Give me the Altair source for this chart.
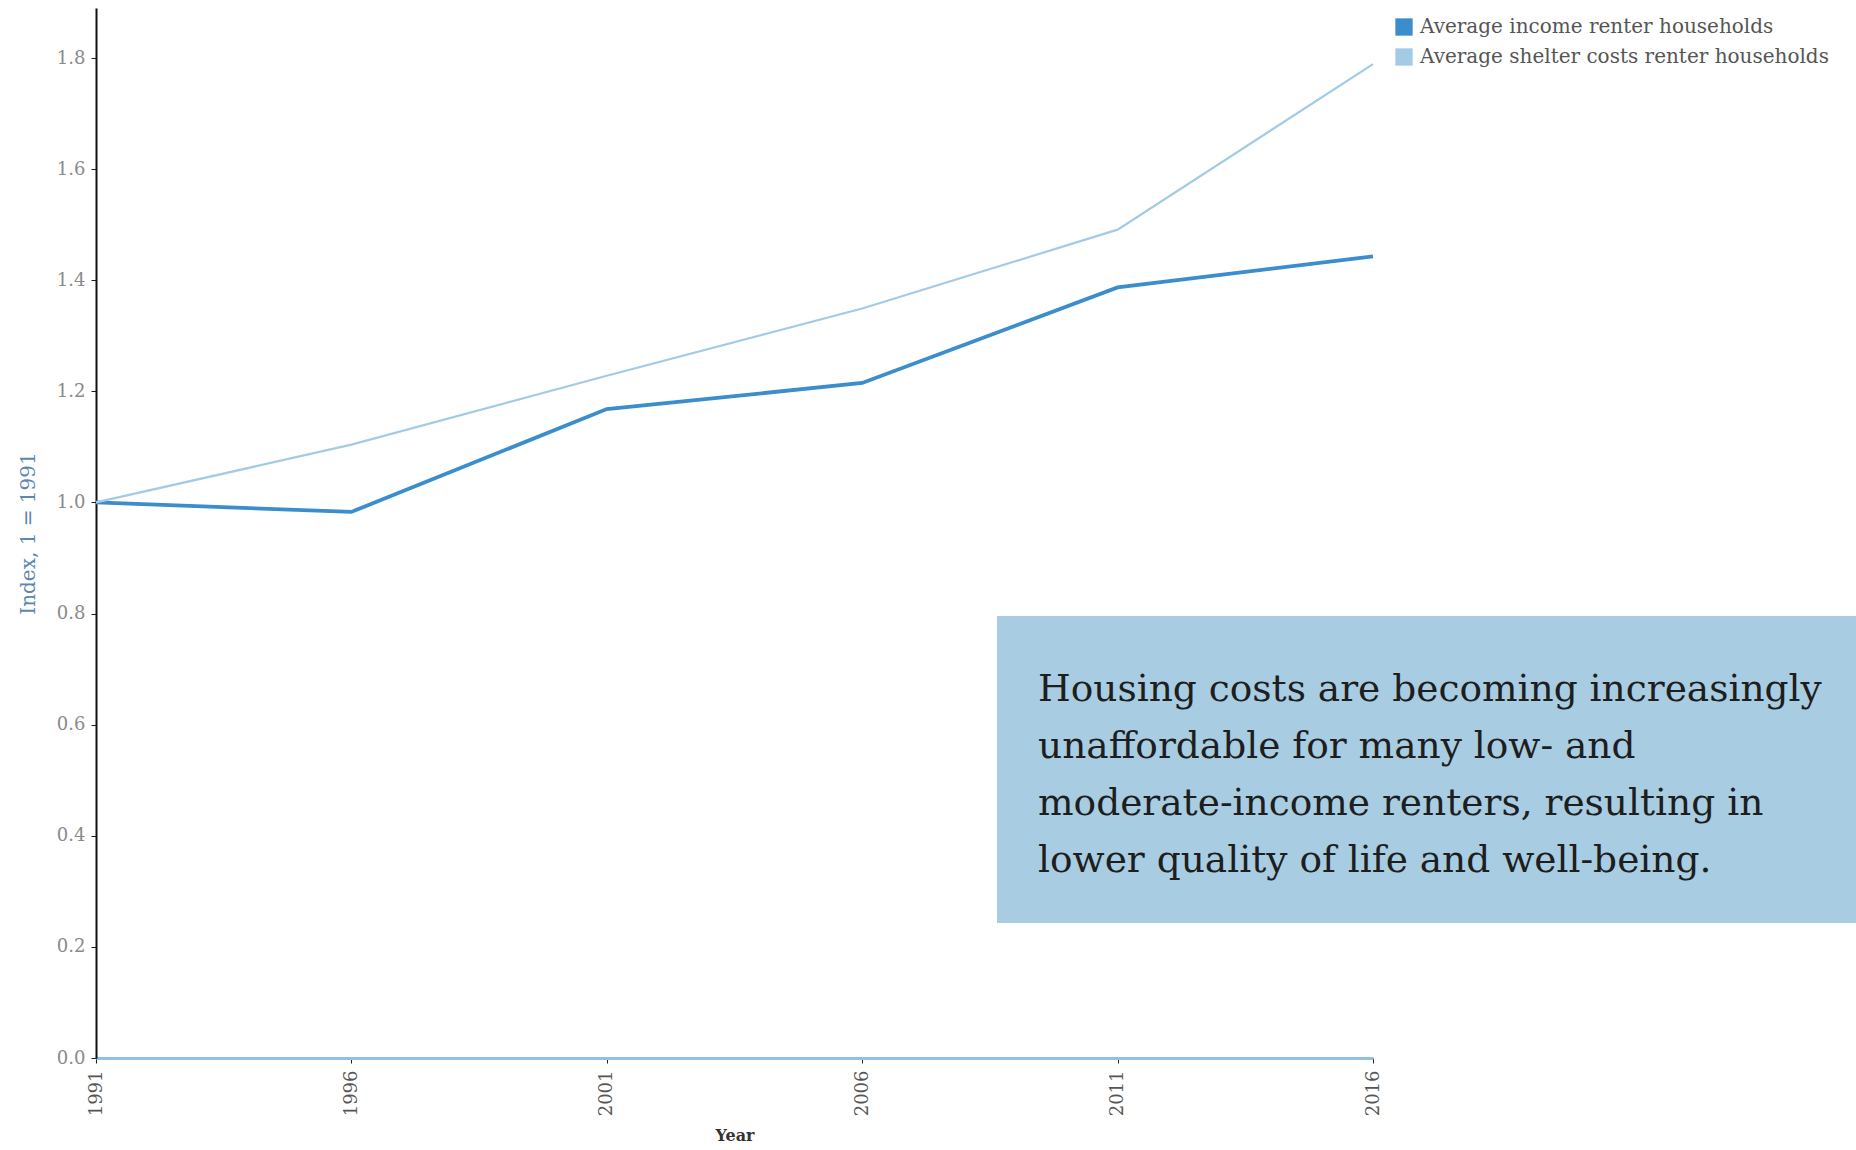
import altair as alt
import pandas as pd

# Census years and the two indexed series (1991 = 1.0)
years = [1991, 1996, 2001, 2006, 2011, 2016]
income_index = [1.00, 0.983, 1.168, 1.215, 1.387, 1.443]
shelter_index = [1.00, 1.104, 1.228, 1.349, 1.491, 1.789]

series_names = [
    "Average income renter households",
    "Average shelter costs renter households",
]
series_colors = ["#3b8dcb", "#a3cbe6"]
series_widths = [3.8, 2.2]

y_ticks = [0.0, 0.2, 0.4, 0.6, 0.8, 1.0, 1.2, 1.4, 1.6, 1.8]

callout_lines = [
    "Housing costs are becoming increasingly",
    "unaffordable for many low- and",
    "moderate-income renters, resulting in",
    "lower quality of life and well-being.",
]

rows = []
for name, vals in zip(series_names, [income_index, shelter_index]):
    for yr, v in zip(years, vals):
        rows.append({"Year": yr, "Index": v, "Series": name})
df = pd.DataFrame(rows)

W, H = 1277, 1050
SERIF = "DejaVu Serif"

color_scale = alt.Scale(domain=series_names, range=series_colors)

x_enc = alt.X(
    "Year:Q",
    scale=alt.Scale(domain=[years[0], years[-1]], nice=False, zero=False),
    axis=alt.Axis(
        values=years,
        format="d",
        labelAngle=-90,
        labelFont=SERIF,
        labelFontSize=18,
        labelColor="#555555",
        labelPadding=7,
        tickSize=5,
        tickColor="#222222",
        domainColor="#92c0e3",
        domainWidth=3,
        grid=False,
        title="Year",
        titleFont=SERIF,
        titleFontSize=16,
        titleFontWeight="bold",
        titleColor="#333333",
        titlePadding=12,
    ),
)
y_enc = alt.Y(
    "Index:Q",
    scale=alt.Scale(domain=[0, 1.89], nice=False),
    axis=alt.Axis(
        values=y_ticks,
        format=".1f",
        labelFont=SERIF,
        labelFontSize=18,
        labelColor="#8a8a8a",
        labelPadding=6,
        tickSize=5,
        tickColor="#222222",
        domainColor="#111111",
        domainWidth=2,
        grid=False,
        title="Index, 1 = 1991",
        titleFont=SERIF,
        titleFontSize=20,
        titleFontWeight="normal",
        titleColor="#5a88b0",
        titlePadding=18,
    ),
)

lines = (
    alt.Chart(df)
    .mark_line(clip=False)
    .encode(
        x=x_enc,
        y=y_enc,
        color=alt.Color("Series:N", scale=color_scale, legend=None),
        strokeWidth=alt.StrokeWidth(
            "Series:N",
            scale=alt.Scale(domain=series_names, range=series_widths),
            legend=None,
        ),
    )
)

# Zero-size squares carry the legend so its swatches are filled squares
legend_keys = (
    alt.Chart(df)
    .mark_square(size=0, filled=True, opacity=1)
    .encode(
        x="Year:Q",
        y="Index:Q",
        color=alt.Color(
            "Series:N",
            scale=color_scale,
            legend=alt.Legend(
                title=None,
                orient="none",
                legendX=1298,
                legendY=9,
                symbolType="square",
                symbolSize=300,
                symbolStrokeWidth=0,
                symbolOpacity=1,
                labelFont=SERIF,
                labelFontSize=20,
                labelColor="#555555",
                labelLimit=700,
                rowPadding=10,
                labelOffset=6,
            ),
        ),
    )
)

# Call-out panel with the key message
callout_box = (
    alt.Chart(pd.DataFrame({"k": [0]}))
    .mark_rect(color="#a8cde2", clip=False)
    .encode(
        x=alt.value(901),
        x2=alt.value(1790),
        y=alt.value(608),
        y2=alt.value(915),
    )
)

callout_text = (
    alt.Chart(pd.DataFrame({"k": [0]}))
    .mark_text(
        text=callout_lines,
        align="left",
        baseline="alphabetic",
        font=SERIF,
        fontSize=37.5,
        lineHeight=57,
        color="#1e1e1e",
        clip=False,
    )
    .encode(x=alt.value(942), y=alt.value(693))
)

chart = (
    alt.layer(lines, legend_keys, callout_box, callout_text)
    .resolve_legend(color="independent")
    .properties(
        width=W,
        height=H,
        autosize=alt.AutoSizeParams(type="none"),
        padding={"left": 96, "top": 8, "right": 483, "bottom": 88},
        background="white",
    )
    .configure_view(stroke=None)
)

chart.save("out.html", embed_options={"renderer": "svg", "actions": False})
